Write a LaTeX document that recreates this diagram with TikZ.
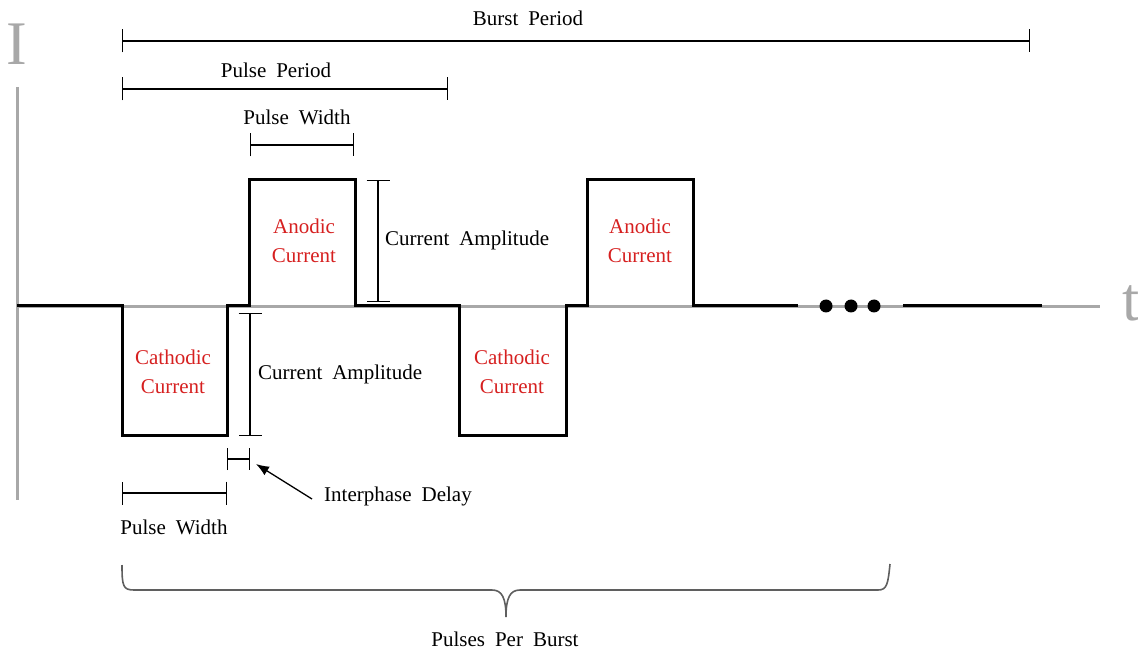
\documentclass[tikz,border=0pt]{standalone}
\usepackage{fontspec}
\setmainfont[WordSpace=1.9]{Liberation Serif}
\usetikzlibrary{arrows.meta}
\usepackage{xcolor}
\definecolor{axisgray}{RGB}{168,168,168}
\definecolor{phasered}{RGB}{214,32,32}
\definecolor{bracegray}{RGB}{95,95,95}

\begin{document}
\begin{tikzpicture}[x=1pt,y=-1pt,>=Latex,
  lbl/.style={font=\fontsize{21}{26}\selectfont,inner sep=0pt},
  phase/.style={inner sep=0pt,text=phasered,align=center,font=\fontsize{21}{29}\selectfont},
  dimbar/.style={line width=1.1pt,{Bar[width=23pt]}-{Bar[width=23pt]}},
  wave/.style={line width=3pt}]
  \useasboundingbox (0,0) rectangle (1138,652);
  % axes
  \draw[axisgray,line width=3pt] (17,87) -- (17,500);
  \draw[axisgray,line width=3pt] (17,307) -- (1100,307);
  \node[text=axisgray,inner sep=0pt,font=\fontsize{62}{62}\selectfont] (Ilbl) at (17,44) {I};
  \node[text=axisgray,inner sep=0pt,font=\fontsize{62}{62}\selectfont,anchor=west] (tlbl) at (1122,303) {t};
  % pulse train
  \draw[wave] (17,306) -- (122,306) -- (122,435) -- (227,435) -- (227,306) -- (249,306)
    -- (249,180) -- (355,180) -- (355,306) -- (459,306) -- (459,435) -- (566,435)
    -- (566,306) -- (587,306) -- (587,180) -- (693,180) -- (693,306) -- (798,306);
  \draw[wave] (903,306) -- (1042,306);
  \foreach \dx in {826,851,874}
    \fill (\dx,306) circle (6.5);
  % phase labels
  \node[phase] (anodA) at (304,241) {Anodic\\Current};
  \node[phase] (cathA) at (173,372) {Cathodic\\Current};
  \node[phase] (anodB) at (640,241) {Anodic\\Current};
  \node[phase] (cathB) at (512,372) {Cathodic\\Current};
  % dimensions
  \coordinate (bpL) at (122,41);  \coordinate (bpR) at (1030,41);
  \coordinate (ppL) at (122,89);  \coordinate (ppR) at (448,89);
  \coordinate (pwL) at (250,145); \coordinate (pwR) at (354,145);
  \coordinate (caT) at (378,180); \coordinate (caB) at (378,302);
  \coordinate (cbT) at (250,313); \coordinate (cbB) at (250,436);
  \coordinate (ipL) at (227,459); \coordinate (ipR) at (250,459);
  \coordinate (qwL) at (122,493); \coordinate (qwR) at (227,493);
  \draw[dimbar] (bpL) -- (bpR);
  \draw[dimbar] (ppL) -- (ppR);
  \draw[dimbar] (pwL) -- (pwR);
  \draw[dimbar] (caT) -- (caB);
  \draw[dimbar] (cbT) -- (cbB);
  \draw[dimbar,{Bar[width=22pt]}-{Bar[width=22pt]}] (ipL) -- (ipR);
  \draw[dimbar] (qwL) -- (qwR);
  \node[lbl] (bplbl) at (528,18) {Burst Period};
  \node[lbl] (pplbl) at (276,70) {Pulse Period};
  \node[lbl] (pwlbl) at (297,117) {Pulse Width};
  \node[lbl,anchor=west] (calbl) at (385,240) {Current Amplitude};
  \node[lbl,anchor=west] (cblbl) at (258,374) {Current Amplitude};
  \node[lbl,anchor=west] (iplbl) at (324,496) {Interphase Delay};
  \node[lbl] (qwlbl) at (174,527) {Pulse Width};
  \coordinate (ipTip) at (256,464);
  \draw[line width=1.3pt,-{Latex[length=13pt,width=10pt]}] ([xshift=-12pt,yshift=-3pt]iplbl.west) -- (ipTip);
  % pulses per burst brace
  \draw[bracegray,line width=1.6pt] (122,565) .. controls (122,586) and (123,590) .. (134,590)
    -- (492,590) .. controls (502,590) and (506,598) .. (506,617)
    .. controls (506,598) and (510,590) .. (520,590)
    -- (878,590) .. controls (887,590) and (888,584) .. (890,564);
  \node[lbl] (ppblbl) at (505,639) {Pulses Per Burst};
\end{tikzpicture}
\end{document}
